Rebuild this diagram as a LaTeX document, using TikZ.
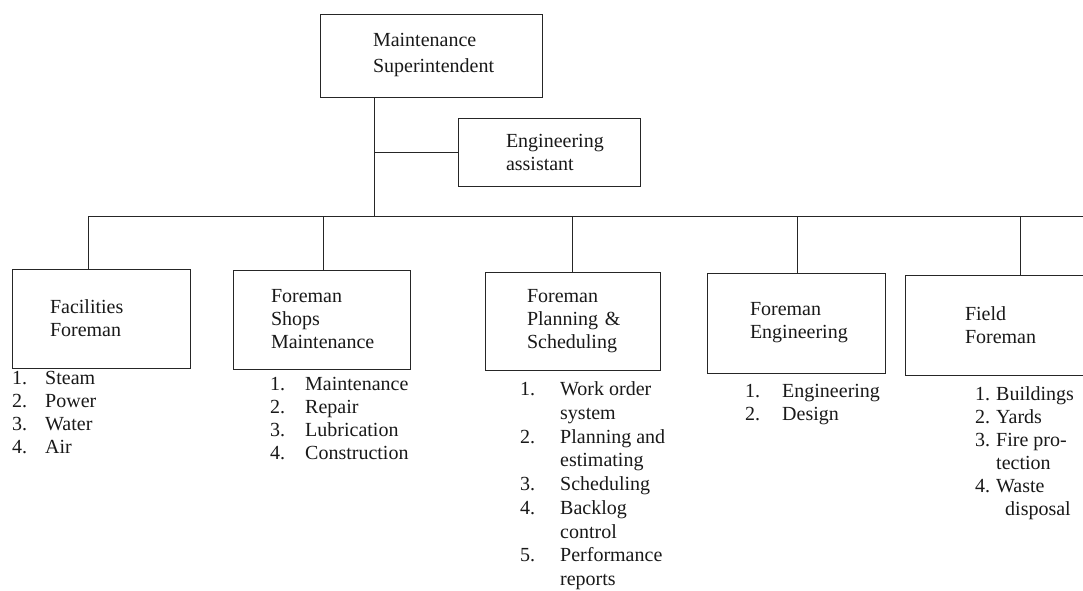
\documentclass[tikz,border=0pt]{standalone}
\usepackage{fontspec}
\setmainfont{Liberation Serif}

\tikzset{
  post/.style={draw=black!85, line width=1pt, align=left, inner sep=0pt},
  duties/.style={anchor=north west, inner sep=0pt},
  wire/.style={draw=black!85, line width=1pt}
}

\begin{document}
\begin{tikzpicture}[x=1pt,y=-1pt,font=\fontsize{20}{23}\selectfont,text=black!90]
\useasboundingbox (0,0) rectangle (1083,590);
\clip (0,0) rectangle (1083,590);
\fill[white] (0,0) rectangle (1083,590);

% posts
\node[post, minimum width=222pt, minimum height=83pt, text width=116pt] (sup) at (431,55.5) {Maintenance\\[3pt]Superintendent};
\node[post, minimum width=182pt, minimum height=68pt, text width=86pt] (asst) at (549,152) {Engineering\\assistant};
\node[post, minimum width=178pt, minimum height=99pt, text width=102pt] (fac) at (101,318.5) {Facilities\\Foreman};
\node[post, minimum width=177pt, minimum height=99pt, text width=101pt] (shop) at (321.5,319.5) {Foreman\\Shops\\Maintenance};
\node[post, minimum width=175pt, minimum height=98pt, text width=91pt] (plan) at (572.5,321) {Foreman\\Planning~\&\\Scheduling};
\node[post, minimum width=178pt, minimum height=100pt, text width=92pt] (eng) at (796,323) {Foreman\\Engineering};
\node[post, minimum width=190pt, minimum height=100pt, text width=70pt] (field) at (1000,325) {Field\\Foreman};

% duties
\node[duties] (facL) at (12,368) {\begin{tabular}{@{}p{33pt}@{}l@{}}
1.&Steam\\2.&Power\\3.&Water\\4.&Air\end{tabular}};
\node[duties] (shopL) at (270,374) {\begin{tabular}{@{}p{35pt}@{}l@{}}
1.&Maintenance\\2.&Repair\\3.&Lubrication\\4.&Construction\end{tabular}};
\node[duties, font=\fontsize{20}{23.7}\selectfont] (planL) at (520,379) {\begin{tabular}{@{}p{40pt}@{}l@{}}
1.&Work order\\&system\\2.&Planning and\\&estimating\\3.&Scheduling\\
4.&Backlog\\&control\\5.&Performance\\&reports\end{tabular}};
\node[duties] (engL) at (745,381) {\begin{tabular}{@{}p{37pt}@{}l@{}}
1.&Engineering\\2.&Design\end{tabular}};
\node[duties] (fieldL) at (975,384) {\begin{tabular}{@{}p{21pt}@{}l@{}}
1.&Buildings\\2.&Yards\\3.&Fire pro-\\&tection\\4.&Waste\\&\hspace{9pt}disposal\end{tabular}};

% lines
\coordinate (hub) at (374,216);
\coordinate (busend) at (1083,216);
\draw[wire] (hub |- sup.south) -- (hub);
\draw[wire] (hub |- asst.west) -- (asst.west);
\foreach \p/\x in {fac/88, shop/323, plan/572, eng/797, field/1020}{
  \coordinate (d\p) at (\x,216);
  \draw[wire] (d\p) -- (d\p |- \p.north);
}
\draw[wire] (dfac) -- (busend);
\end{tikzpicture}
\end{document}
